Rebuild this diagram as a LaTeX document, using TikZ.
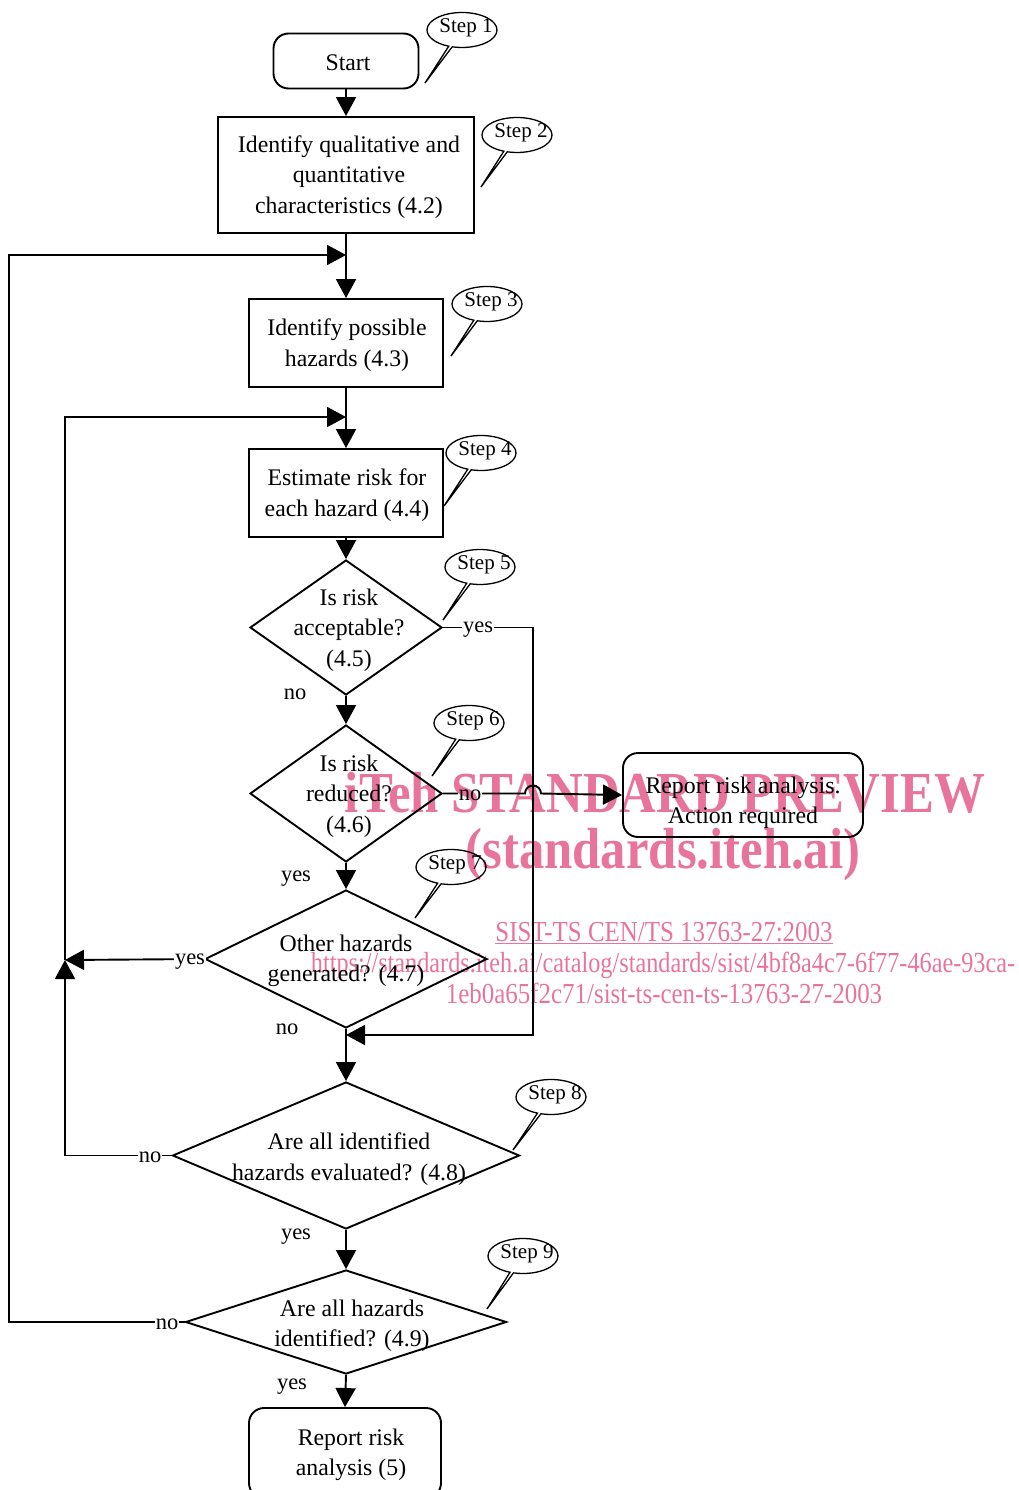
\documentclass[tikz,border=0pt]{standalone}
\usepackage{fontspec}
\setmainfont{Liberation Serif}
\usetikzlibrary{shapes.geometric,shapes.callouts,arrows.meta}
\definecolor{wm}{RGB}{232,116,156}
\begin{document}
\begin{tikzpicture}[x=1pt,y=-1pt,
  txt/.style={font=\fontsize{23.8}{30.5}\selectfont, align=center, inner sep=0pt},
  box/.style={draw, rectangle, line width=1.9pt, inner sep=0pt},
  rbox/.style={box, rounded corners=15pt},
  dia/.style={draw, diamond, line width=1.9pt, inner sep=0pt},
  lbl/.style={font=\fontsize{22.5}{26}\selectfont, inner sep=1pt},
  wlbl/.style={lbl, fill=white},
  stepc/.style={ellipse callout, draw, line width=1.3pt, font=\fontsize{21}{24}\selectfont, inner sep=0pt, minimum width=70pt, minimum height=35pt, callout pointer arc=6},
  ln/.style={line width=1.9pt},
  arr/.style={line width=1.9pt, -{Triangle[length=19pt,width=20pt]}},
  wmark/.style={text=wm, inner sep=0pt, anchor=base}
]
\useasboundingbox (0,0) rectangle (1019,1490);

% boxes
\node[rbox, minimum width=145pt, minimum height=55pt] (start) at (346,61) {};
\node[txt] (tstart) at (348,63) {Start};
\node[box, minimum width=256pt, minimum height=116pt] (b2) at (346,175) {};
\node[txt] (tb2) at (349,177) {Identify qualitative and\\quantitative\\characteristics (4.2)};
\node[box, minimum width=194pt, minimum height=88pt] (b3) at (346,343) {};
\node[txt] (tb3) at (347,345) {Identify possible\\hazards (4.3)};
\node[box, minimum width=194pt, minimum height=88pt] (b4) at (346,493) {};
\node[txt] (tb4) at (347,495) {Estimate risk for\\each hazard (4.4)};

% diamonds
\node[dia, minimum width=192pt, minimum height=135pt] (d1) at (346,627.5) {};
\node[txt] (t1) at (349,630) {Is risk\\acceptable?\\(4.5)};
\node[dia, minimum width=192pt, minimum height=137pt] (d2) at (346,793.5) {};
\node[txt] (t2) at (349,796) {Is risk\\reduced?\\(4.6)};
\node[dia, minimum width=282pt, minimum height=138pt] (d3) at (346,959) {};
\node[txt] (t3) at (346,961) {Other hazards\\generated? (4.7)};
\node[dia, minimum width=347pt, minimum height=147pt] (d4) at (346,1155.5) {};
\node[txt] (t4) at (349,1159) {Are all identified\\hazards evaluated? (4.8)};
\node[dia, minimum width=321pt, minimum height=104pt] (d5) at (346,1322) {};
\node[txt] (t5) at (352,1326) {Are all hazards\\identified? (4.9)};

\node[rbox, minimum width=240pt, minimum height=84pt] (rep) at (743,795) {};
\node[txt] (trep) at (743,803) {Report risk analysis.\\Action required};
\node[rbox, minimum width=192pt, minimum height=90pt] (fin) at (345,1453) {};
\node[txt] (tfin) at (351,1455) {Report risk\\analysis (5)};

% junction coordinates
\coordinate (j1) at (346,255);
\coordinate (j2) at (346,417);
\coordinate (j3) at (65,960);
\coordinate (j4) at (346,1035);

% main flow
\draw[arr] (start.south) -- (b2.north);
\draw[arr] (b2.south) -- (b3.north);
\draw[arr] (b3.south) -- (b4.north);
\draw[arr] (b4.south) -- (d1.north);
\draw[arr] (d1.south) -- (d2.north);
\draw[arr] (d2.south) -- (d3.north);
\draw[arr] (d3.south) -- (d4.north);
\draw[arr] (d4.south) -- (d5.north);
\draw[arr] (d5.south) -- (fin.north);

% loops
\draw[arr] (d5.west) -- (9,1322) -- (9,255) -- (j1);
\draw[arr] (d4.west) -- (65,1155.5) -- (j3);
\draw[arr] (d3.west) -- (j3);
\draw[arr] (j3) -- (65,417) -- (j2);
\draw[arr] (d1.east) -- (533,627.5) -- (533,1035) -- (j4);
\draw[arr] (d2.east) -- (525,793.5) arc[start angle=180,end angle=360,radius=8] -- (rep.west);

% labels
\node[wlbl] (l1) at (478,630) {yes};
\node[lbl] (l2) at (295,694) {no};
\node[wlbl] (l3) at (470,795) {no};
\node[lbl] (l4) at (296,879) {yes};
\node[wlbl] (l5) at (190,962) {yes};
\node[lbl] (l6) at (287,1029) {no};
\node[wlbl] (l7) at (150,1157) {no};
\node[lbl] (l8) at (296,1237) {yes};
\node[wlbl] (l9) at (167,1324) {no};
\node[lbl] (l10) at (292,1387) {yes};

% step callouts
\coordinate (p1) at (425,83);
\coordinate (p2) at (481,187);
\coordinate (p3) at (451,356);
\coordinate (p4) at (444,506);
\coordinate (p5) at (443,620);
\coordinate (p6) at (432,776);
\coordinate (p7) at (415,918);
\coordinate (p8) at (513,1150);
\coordinate (p9) at (487,1309);
\node[stepc, callout absolute pointer=(p1)] (s1) at (462,30) {};
\node[stepc, callout absolute pointer=(p2)] (s2) at (517,135) {};
\node[stepc, callout absolute pointer=(p3)] (s3) at (487,304) {};
\node[stepc, callout absolute pointer=(p4)] (s4) at (481,453) {};
\node[stepc, callout absolute pointer=(p5)] (s5) at (480,567) {};
\node[stepc, callout absolute pointer=(p6)] (s6) at (469,723) {};
\node[stepc, callout absolute pointer=(p7)] (s7) at (451,867) {};
\node[stepc, callout absolute pointer=(p8)] (s8) at (551,1097) {};
\node[stepc, callout absolute pointer=(p9)] (s9) at (523,1256) {};
\foreach \n/\t in {1/1,2/2,3/3,4/4,5/5,6/6,7/7,8/8,9/9}
  \node[font=\fontsize{21}{24}\selectfont, inner sep=0pt] (st\n) at ([xshift=4pt,yshift=2pt]s\n.center) {Step \t};

% watermark
\begin{scope}[blend mode=multiply]
\node[wmark, xscale=0.875, font=\fontsize{58}{60}\selectfont\bfseries] (w1) at (665,812) {iTeh STANDARD PREVIEW};
\node[wmark, xscale=0.875, font=\fontsize{58}{60}\selectfont\bfseries] (w2) at (663,868) {(standards.iteh.ai)};
\node[wmark, xscale=0.86, font=\fontsize{29}{31}\selectfont] (w3) at (664,941) {\underline{SIST-TS CEN/TS 13763-27:2003}};
\node[wmark, xscale=0.836, font=\fontsize{29}{31}\selectfont] (w4) at (663,972) {https://standards.iteh.ai/catalog/standards/sist/4bf8a4c7-6f77-46ae-93ca-};
\node[wmark, xscale=0.86, font=\fontsize{29}{31}\selectfont] (w5) at (664,1003) {1eb0a65f2c71/sist-ts-cen-ts-13763-27-2003};
\end{scope}
\end{tikzpicture}
\end{document}
